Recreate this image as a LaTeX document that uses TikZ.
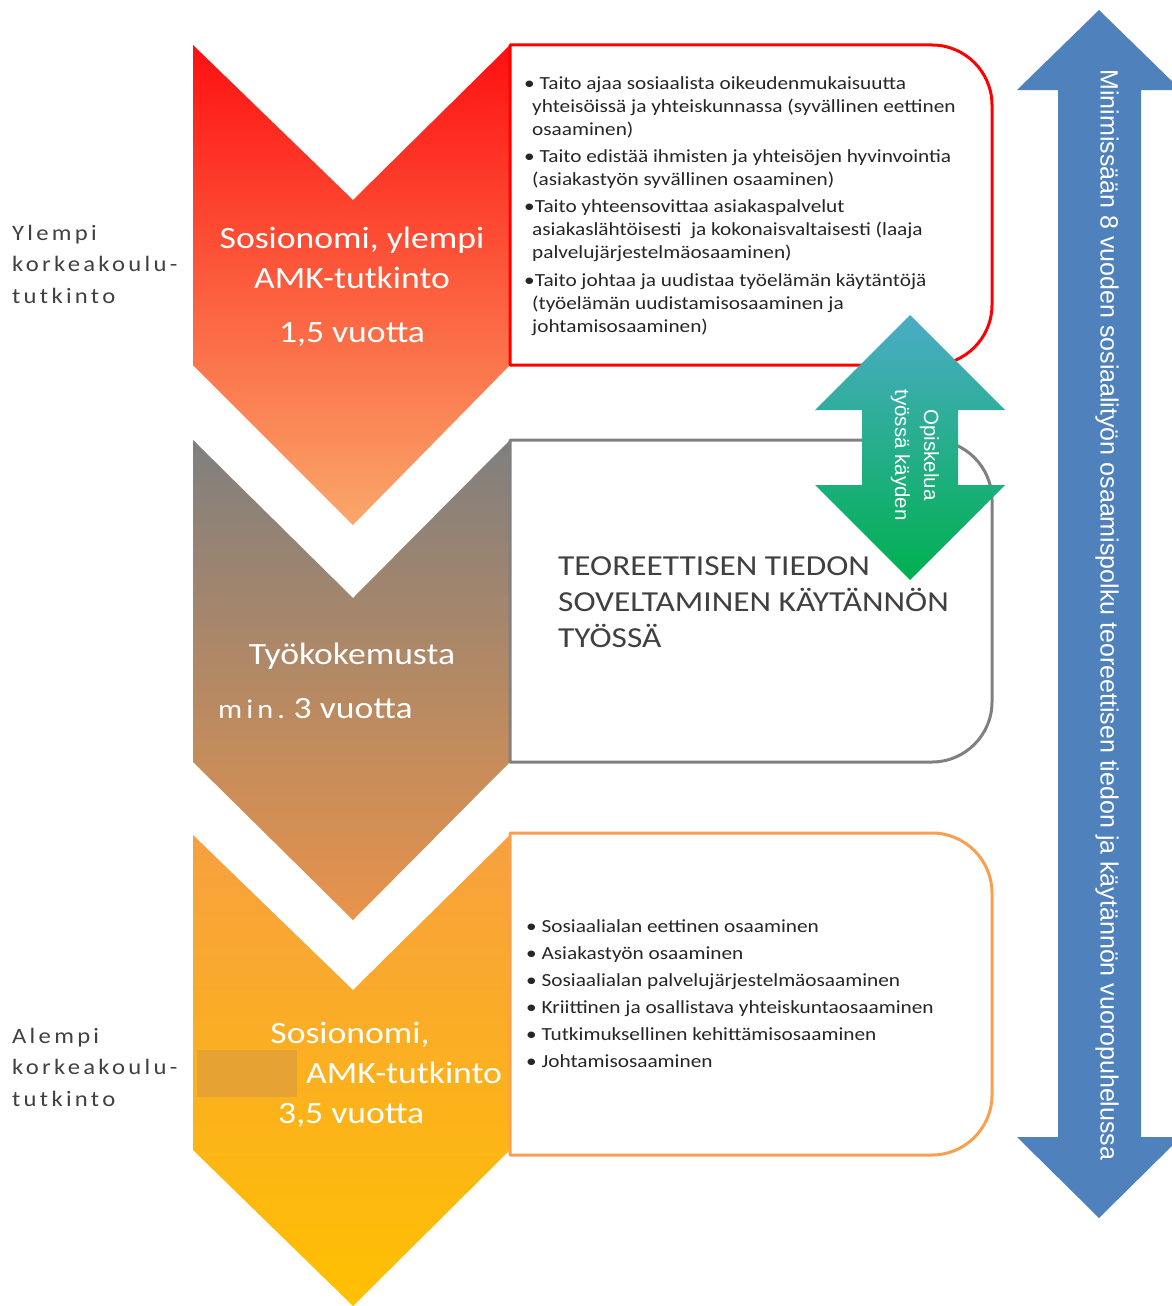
\documentclass[tikz,border=0pt]{standalone}
\usepackage{fontspec}
\setmainfont[FakeStretch=1.15]{Carlito}
\newfontfamily\arialf{Liberation Sans}
\newfontfamily\spacedf[LetterSpace=15,FakeStretch=1.12]{Carlito}
\definecolor{redtop}{RGB}{255,16,16}
\definecolor{redbot}{RGB}{249,168,106}
\definecolor{graytop}{RGB}{127,127,127}
\definecolor{graybot}{RGB}{232,147,74}
\definecolor{orgtop}{RGB}{247,160,64}
\definecolor{orgbot}{RGB}{255,192,0}
\definecolor{boxred}{RGB}{255,0,0}
\definecolor{boxgray}{RGB}{128,128,128}
\definecolor{boxorg}{RGB}{248,160,80}
\definecolor{arrblue}{RGB}{79,129,189}
\definecolor{greentop}{RGB}{75,172,198}
\definecolor{greenbot}{RGB}{0,176,80}
\definecolor{txtdark}{RGB}{38,38,38}
\definecolor{txtgray}{RGB}{64,64,64}
\definecolor{patch}{RGB}{230,162,50}
\begin{document}
\begin{tikzpicture}[x=1pt,y=-1pt,
  boxline/.style={line width=3pt,fill=white,line join=round},
  bultext/.style={font=\fontsize{18.5}{23}\selectfont,text=txtdark,align=left,inner sep=0pt,anchor=north west},
  chevtext/.style={font=\fontsize{31}{36}\selectfont,text=white,inner sep=0pt,anchor=base},
  sidetext/.style={font=\spacedf\fontsize{22}{31.5}\selectfont,text=txtgray,align=left,inner sep=0pt,anchor=north west},
  arrtext/.style={font=\arialf\fontsize{25}{28}\selectfont,text=white,inner sep=0pt,rotate=-90}
]
\useasboundingbox (0,0) rectangle (1172,1306);
\begin{scope}
\clip (0,0) rectangle (1172,1306);

% chevrons
\shade[top color=redtop,bottom color=redbot]
  (193,45) -- (353,200) -- (510,45) -- (510,365) -- (353,525) -- (193,365) -- cycle;
\shade[top color=graytop,bottom color=graybot]
  (193,440) -- (353,598) -- (510,440) -- (510,762) -- (353,920) -- (193,762) -- cycle;
\shade[top color=orgtop,bottom color=orgbot]
  (193,835) -- (353,990) -- (510,835) -- (510,1150) -- (353,1306) -- (193,1150) -- cycle;

% boxes (right corners rounded)
\draw[boxline,draw=boxred]
  (510,45) -- (932,45) .. controls (965,45) and (992,72) .. (992,105)
  -- (992,305) .. controls (992,338) and (965,365) .. (932,365) -- (510,365) -- cycle;
\draw[boxline,draw=boxgray]
  (510,440) -- (932,440) .. controls (965,440) and (992,467) .. (992,500)
  -- (992,702) .. controls (992,735) and (965,762) .. (932,762) -- (510,762) -- cycle;
\draw[boxline,draw=boxorg]
  (510,833) -- (932,833) .. controls (965,833) and (992,860) .. (992,893)
  -- (992,1095) .. controls (992,1128) and (965,1155) .. (932,1155) -- (510,1155) -- cycle;

% blue double arrow
\fill[arrblue] (1099,10) -- (1181,90) -- (1141,90) -- (1141,1137) -- (1181,1137)
  -- (1099,1218) -- (1017,1137) -- (1058,1137) -- (1058,90) -- (1017,90) -- cycle;
\node[arrtext] (bluetxt) at (1107,615) {Minimissään 8 vuoden sosiaalityön osaamispolku teoreettisen tiedon ja käytännön vuoropuhelussa};

% green double arrow
\shade[top color=greentop,bottom color=greenbot]
  (910,315) -- (1005,410) -- (958,410) -- (958,485) -- (1005,485) -- (910,580)
  -- (815,485) -- (862,485) -- (862,410) -- (815,410) -- cycle;
\node[font=\arialf\fontsize{20.5}{29}\selectfont,text=white,inner sep=0pt,rotate=-90,align=center] (greentxt) at (915,455) {Opiskelua\\työssä käyden};
\end{scope}

% chevron texts
\node[chevtext] (c1a) at (352,248) {Sosionomi, ylempi};
\node[chevtext] (c1b) at (352,288) {AMK-tutkinto};
\node[chevtext] (c1c) at (352,342) {1,5 vuotta};
\node[chevtext] (c2a) at (352,664) {Työkokemusta};
\node[chevtext,anchor=base west] (c2b) at (218,718) {{\spacedf\fontsize{27}{34}\selectfont min.}\hspace{-2pt} 3 vuotta};
\fill[patch] (197,1050) rectangle (297,1097);
\node[chevtext] (c3a) at (350,1043) {Sosionomi,};
\node[chevtext,anchor=base west] (c3b) at (306,1083) {AMK-tutkinto};
\node[chevtext,anchor=base west] (c3c) at (278,1123) {3,5 vuotta};

% side labels
\node[sidetext] (ylempi) at (12,225) {Ylempi\\korkeakoulu-\\tutkinto};
\node[sidetext] (alempi) at (12,1028) {Alempi\\korkeakoulu-\\tutkinto};

% red box text
\node[bultext] (redtxt) at (524,76) {%
• Taito ajaa sosiaalista oikeudenmukaisuutta\\
\hspace*{8pt}yhteisöissä ja yhteiskunnassa (syvällinen eettinen\\
\hspace*{8pt}osaaminen)\\[4pt]
• Taito edistää ihmisten ja yhteisöjen hyvinvointia\\
\hspace*{8pt}(asiakastyön syvällinen osaaminen)\\[4pt]
•Taito yhteensovittaa asiakaspalvelut\\
\hspace*{8pt}asiakaslähtöisesti\ \ ja kokonaisvaltaisesti (laaja\\
\hspace*{8pt}palvelujärjestelmäosaaminen)\\[5pt]
•Taito johtaa ja uudistaa työelämän käytäntöjä\\
\hspace*{8pt}(työelämän uudistamisosaaminen ja\\
\hspace*{8pt}johtamisosaaminen)};

% gray box text
\node[font=\fontsize{29}{36}\selectfont,text=txtgray,align=left,inner sep=0pt,anchor=north west] (graytxt) at (558,556) {TEOREETTISEN TIEDON\\SOVELTAMINEN KÄYTÄNNÖN\\TYÖSSÄ};

% orange box text
\node[bultext,font=\fontsize{18.5}{27}\selectfont] (orgtxt) at (526,919) {%
• Sosiaalialan eettinen osaaminen\\
• Asiakastyön osaaminen\\
• Sosiaalialan palvelujärjestelmäosaaminen\\
• Kriittinen ja osallistava yhteiskuntaosaaminen\\
• Tutkimuksellinen kehittämisosaaminen\\
• Johtamisosaaminen};
\end{tikzpicture}
\end{document}
